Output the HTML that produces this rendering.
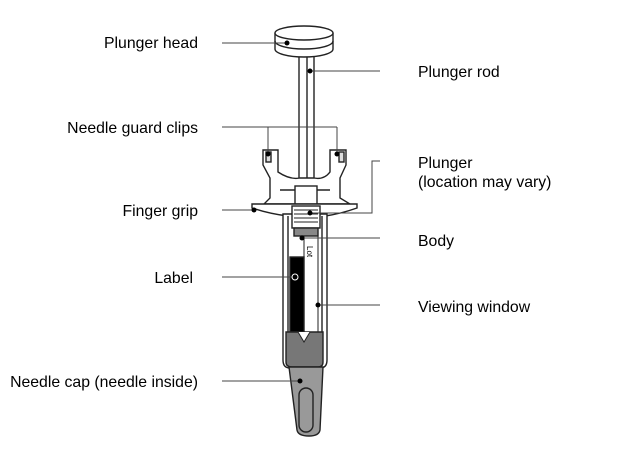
<!DOCTYPE html>
<html><head><style>
body{margin:0;background:#fff;}
svg{display:block;font-family:"Liberation Sans",Arial,sans-serif;font-size:15.8px;}
</style></head><body>
<svg width="620" height="460" viewBox="0 0 620 460" xmlns="http://www.w3.org/2000/svg">
<g fill="#fff" stroke="#222" stroke-width="1.4">
<rect x="299" y="50" width="15" height="138"/>
<line x1="307" y1="52" x2="307" y2="188"/>
<path d="M275 33 L275 49 A29 8 0 0 0 333 49 L333 33"/>
<ellipse cx="304" cy="33" rx="29" ry="7"/>
<path d="M275 41 A29 8 0 0 0 333 41" fill="none"/>
<path d="M263 150 L278 150 L278 172 Q290 180 300 178 L314 178 Q324 180 330 172 L330 150 L346 150 L346 165 L340 178 L340 198 L350 204 L264 204 L270 198 L270 178 L263 165 Z"/>
<rect x="266" y="152" width="5" height="10" fill="#ddd"/>
<rect x="339" y="152" width="5" height="10" fill="#ddd"/>
<path d="M280 190 L330 190" fill="none"/>
<rect x="295" y="186" width="22" height="18"/>
<path d="M252 204 L357 204 L357 208 Q340 214 325 216 L288 216 Q270 214 252 208 Z"/>
<path d="M283 214 L283 360 Q283 368 290 368 L320 368 Q327 368 327 360 L327 214 Z"/>
<line x1="288" y1="216" x2="288" y2="362"/>
<line x1="322" y1="216" x2="322" y2="362"/>
<rect x="292" y="206" width="28" height="22" fill="#fff"/>
<g stroke-width="1"><line x1="294" y1="210" x2="318" y2="210"/><line x1="294" y1="214" x2="318" y2="214"/><line x1="294" y1="218" x2="318" y2="218"/><line x1="294" y1="222" x2="318" y2="222"/></g>
<rect x="294" y="228" width="24" height="8" fill="#888"/>
<line x1="304" y1="236" x2="304" y2="332" stroke-width="1"/>
<line x1="318" y1="236" x2="318" y2="332" stroke-width="1"/>
<rect x="290" y="257" width="14" height="75" fill="#000"/>
<path d="M286 332 L323 332 L323 362 Q323 367 318 367 L292 367 Q286 367 286 362 Z" fill="#777"/>
<path d="M298 332 L304 342 L310 332" fill="#fff" stroke-width="1"/>
<path d="M289 367 L323 367 L320 430 Q319 436 309 436 Q298 436 297 430 Z" fill="#999"/>
<rect x="299" y="388" width="14" height="44" rx="7" fill="#999"/>
</g>
<text x="307" y="246" font-size="8" transform="rotate(90 307 246)">Lot</text>
<g stroke="#444" stroke-width="1" fill="none">
<line x1="222" y1="43" x2="285" y2="43"/>
<line x1="310" y1="71" x2="380" y2="71"/>
<path d="M222 127 L337 127 M268 127 L268 152 M337 127 L337 152"/>
<path d="M310 213 L372 213 L372 161 L380 161"/>
<line x1="222" y1="210" x2="254" y2="210"/>
<line x1="302" y1="238" x2="380" y2="238"/>
<line x1="222" y1="277" x2="293" y2="277"/>
<line x1="318" y1="305" x2="380" y2="305"/>
<line x1="222" y1="381" x2="300" y2="381"/>
</g>
<g fill="#000">
<circle cx="287" cy="43" r="2.5"/><circle cx="310" cy="71" r="2.5"/>
<circle cx="268" cy="154" r="2.5"/><circle cx="337" cy="154" r="2.5"/>
<circle cx="310" cy="213" r="2.5"/><circle cx="254" cy="210" r="2.5"/>
<circle cx="302" cy="238" r="2.5"/><circle cx="318" cy="305" r="2.5"/>
<circle cx="300" cy="381" r="2.5"/>
</g>
<circle cx="295" cy="277" r="3" fill="none" stroke="#fff" stroke-width="1"/>
<g fill="#000">
<text x="198" y="48" text-anchor="end">Plunger head</text>
<text x="198" y="133" text-anchor="end">Needle guard clips</text>
<text x="198" y="216" text-anchor="end">Finger grip</text>
<text x="193" y="283" text-anchor="end">Label</text>
<text x="198" y="387" text-anchor="end">Needle cap (needle inside)</text>
<text x="418" y="77">Plunger rod</text>
<text x="418" y="168">Plunger</text>
<text x="418" y="187">(location may vary)</text>
<text x="418" y="246">Body</text>
<text x="418" y="312">Viewing window</text>
</g>
</svg>
</body></html>
